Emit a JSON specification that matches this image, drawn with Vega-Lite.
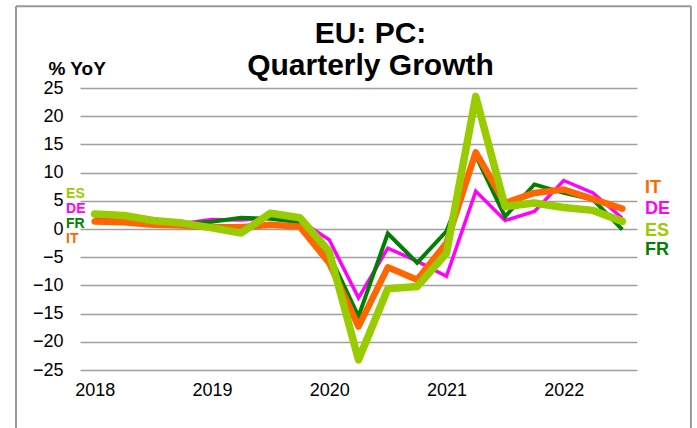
{
  "$schema": "https://vega.github.io/schema/vega-lite/v6.json",
  "width": 557,
  "height": 282,
  "autosize": "none",
  "padding": {"left": 80, "top": 88, "right": 60, "bottom": 58},
  "background": "white",
  "config": {"font": "Liberation Sans", "view": {"stroke": null}},
  "title": {"text": ["EU: PC:", "Quarterly Growth"], "fontSize": 30, "fontWeight": "bold", "color": "black", "lineHeight": 32, "anchor": "middle", "dx": 12, "dy": 116, "offset": 16, "baseline": "alphabetic"},
  "datasets": {
    "series": [
      {"quarter": "2018Q1", "t": 2018.0, "country": "ES", "value": 2.65},
      {"quarter": "2018Q2", "t": 2018.25, "country": "ES", "value": 2.4},
      {"quarter": "2018Q3", "t": 2018.5, "country": "ES", "value": 1.5},
      {"quarter": "2018Q4", "t": 2018.75, "country": "ES", "value": 1.05},
      {"quarter": "2019Q1", "t": 2019.0, "country": "ES", "value": 0.2},
      {"quarter": "2019Q2", "t": 2019.25, "country": "ES", "value": -0.7},
      {"quarter": "2019Q3", "t": 2019.5, "country": "ES", "value": 2.8},
      {"quarter": "2019Q4", "t": 2019.75, "country": "ES", "value": 2.0},
      {"quarter": "2020Q1", "t": 2020.0, "country": "ES", "value": -4.0},
      {"quarter": "2020Q2", "t": 2020.25, "country": "ES", "value": -23.2},
      {"quarter": "2020Q3", "t": 2020.5, "country": "ES", "value": -10.6},
      {"quarter": "2020Q4", "t": 2020.75, "country": "ES", "value": -10.2},
      {"quarter": "2021Q1", "t": 2021.0, "country": "ES", "value": -4.3},
      {"quarter": "2021Q2", "t": 2021.25, "country": "ES", "value": 23.5},
      {"quarter": "2021Q3", "t": 2021.5, "country": "ES", "value": 4.0},
      {"quarter": "2021Q4", "t": 2021.75, "country": "ES", "value": 4.6},
      {"quarter": "2022Q1", "t": 2022.0, "country": "ES", "value": 3.8},
      {"quarter": "2022Q2", "t": 2022.25, "country": "ES", "value": 3.3},
      {"quarter": "2022Q3", "t": 2022.5, "country": "ES", "value": 1.35},
      {"quarter": "2018Q1", "t": 2018.0, "country": "IT", "value": 1.35},
      {"quarter": "2018Q2", "t": 2018.25, "country": "IT", "value": 1.2},
      {"quarter": "2018Q3", "t": 2018.5, "country": "IT", "value": 0.75},
      {"quarter": "2018Q4", "t": 2018.75, "country": "IT", "value": 0.6},
      {"quarter": "2019Q1", "t": 2019.0, "country": "IT", "value": 0.3},
      {"quarter": "2019Q2", "t": 2019.25, "country": "IT", "value": 0.3},
      {"quarter": "2019Q3", "t": 2019.5, "country": "IT", "value": 0.75},
      {"quarter": "2019Q4", "t": 2019.75, "country": "IT", "value": 0.4},
      {"quarter": "2020Q1", "t": 2020.0, "country": "IT", "value": -6.0},
      {"quarter": "2020Q2", "t": 2020.25, "country": "IT", "value": -17.3},
      {"quarter": "2020Q3", "t": 2020.5, "country": "IT", "value": -6.8},
      {"quarter": "2020Q4", "t": 2020.75, "country": "IT", "value": -9.0},
      {"quarter": "2021Q1", "t": 2021.0, "country": "IT", "value": -2.5},
      {"quarter": "2021Q2", "t": 2021.25, "country": "IT", "value": 13.6},
      {"quarter": "2021Q3", "t": 2021.5, "country": "IT", "value": 4.6},
      {"quarter": "2021Q4", "t": 2021.75, "country": "IT", "value": 6.4},
      {"quarter": "2022Q1", "t": 2022.0, "country": "IT", "value": 7.0},
      {"quarter": "2022Q2", "t": 2022.25, "country": "IT", "value": 5.3},
      {"quarter": "2022Q3", "t": 2022.5, "country": "IT", "value": 3.6},
      {"quarter": "2018Q1", "t": 2018.0, "country": "DE", "value": 1.8},
      {"quarter": "2018Q2", "t": 2018.25, "country": "DE", "value": 1.5},
      {"quarter": "2018Q3", "t": 2018.5, "country": "DE", "value": 1.0},
      {"quarter": "2018Q4", "t": 2018.75, "country": "DE", "value": 1.0},
      {"quarter": "2019Q1", "t": 2019.0, "country": "DE", "value": 1.7},
      {"quarter": "2019Q2", "t": 2019.25, "country": "DE", "value": 1.6},
      {"quarter": "2019Q3", "t": 2019.5, "country": "DE", "value": 2.0},
      {"quarter": "2019Q4", "t": 2019.75, "country": "DE", "value": 1.5},
      {"quarter": "2020Q1", "t": 2020.0, "country": "DE", "value": -1.9},
      {"quarter": "2020Q2", "t": 2020.25, "country": "DE", "value": -12.2},
      {"quarter": "2020Q3", "t": 2020.5, "country": "DE", "value": -3.4},
      {"quarter": "2020Q4", "t": 2020.75, "country": "DE", "value": -5.7},
      {"quarter": "2021Q1", "t": 2021.0, "country": "DE", "value": -8.4},
      {"quarter": "2021Q2", "t": 2021.25, "country": "DE", "value": 6.7},
      {"quarter": "2021Q3", "t": 2021.5, "country": "DE", "value": 1.5},
      {"quarter": "2021Q4", "t": 2021.75, "country": "DE", "value": 3.1},
      {"quarter": "2022Q1", "t": 2022.0, "country": "DE", "value": 8.6},
      {"quarter": "2022Q2", "t": 2022.25, "country": "DE", "value": 6.4},
      {"quarter": "2022Q3", "t": 2022.5, "country": "DE", "value": 1.9},
      {"quarter": "2018Q1", "t": 2018.0, "country": "FR", "value": 1.5},
      {"quarter": "2018Q2", "t": 2018.25, "country": "FR", "value": 1.2},
      {"quarter": "2018Q3", "t": 2018.5, "country": "FR", "value": 1.0},
      {"quarter": "2018Q4", "t": 2018.75, "country": "FR", "value": 0.9},
      {"quarter": "2019Q1", "t": 2019.0, "country": "FR", "value": 1.3},
      {"quarter": "2019Q2", "t": 2019.25, "country": "FR", "value": 2.0},
      {"quarter": "2019Q3", "t": 2019.5, "country": "FR", "value": 1.8},
      {"quarter": "2019Q4", "t": 2019.75, "country": "FR", "value": 1.2},
      {"quarter": "2020Q1", "t": 2020.0, "country": "FR", "value": -4.5},
      {"quarter": "2020Q2", "t": 2020.25, "country": "FR", "value": -15.5},
      {"quarter": "2020Q3", "t": 2020.5, "country": "FR", "value": -0.8},
      {"quarter": "2020Q4", "t": 2020.75, "country": "FR", "value": -6.0},
      {"quarter": "2021Q1", "t": 2021.0, "country": "FR", "value": -0.4},
      {"quarter": "2021Q2", "t": 2021.25, "country": "FR", "value": 13.0},
      {"quarter": "2021Q3", "t": 2021.5, "country": "FR", "value": 2.2},
      {"quarter": "2021Q4", "t": 2021.75, "country": "FR", "value": 7.9},
      {"quarter": "2022Q1", "t": 2022.0, "country": "FR", "value": 6.4},
      {"quarter": "2022Q2", "t": 2022.25, "country": "FR", "value": 5.2},
      {"quarter": "2022Q3", "t": 2022.5, "country": "FR", "value": -0.1}
    ],
    "labels": [
      {"country": "ES", "side": "left", "t": 2017.756, "value": 6.26},
      {"country": "DE", "side": "left", "t": 2017.756, "value": 3.6},
      {"country": "FR", "side": "left", "t": 2017.756, "value": 0.94},
      {"country": "IT", "side": "left", "t": 2017.756, "value": -1.72},
      {"country": "IT", "side": "right", "t": 2022.693, "value": 7.3},
      {"country": "DE", "side": "right", "t": 2022.693, "value": 3.6},
      {"country": "ES", "side": "right", "t": 2022.693, "value": -0.3},
      {"country": "FR", "side": "right", "t": 2022.693, "value": -3.7}
    ]
  },
  "data": {"name": "series"},
  "encoding": {
    "x": {
      "field": "t", "type": "quantitative",
      "scale": {"domain": [2017.875, 2022.625], "nice": false, "zero": false},
      "axis": {"values": [2018, 2019, 2020, 2021, 2022], "format": "d", "title": null, "grid": false, "ticks": false, "domain": false, "labelFontSize": 18, "labelColor": "black", "labelPadding": 11, "labelFlush": false}
    },
    "y": {
      "field": "value", "type": "quantitative",
      "scale": {"domain": [-25, 25], "nice": false, "zero": false},
      "axis": {"values": [-25, -20, -15, -10, -5, 0, 5, 10, 15, 20, 25], "title": "% YoY", "titleAngle": 0, "titleAlign": "left", "titleBaseline": "alphabetic", "titleX": -32, "titleY": -14, "titleFontSize": 19, "titleFontWeight": "bold", "titleColor": "black", "grid": true, "gridColor": "#a0a0a0", "gridWidth": 1.5, "ticks": false, "domain": false, "labelFontSize": 18, "labelColor": "black", "labelPadding": 17}
    },
    "color": {
      "field": "country", "type": "nominal",
      "scale": {"domain": ["IT", "DE", "ES", "FR"], "range": ["#FF6600", "#FF00FF", "#99CC00", "#008000"]},
      "legend": null
    }
  },
  "layer": [
    {
      "transform": [{"filter": "datum.country === 'ES' && datum.t === 2018"}],
      "mark": {"type": "rule", "color": "#999999", "strokeWidth": 2, "clip": false},
      "encoding": {
        "x": {"datum": 2017.329, "type": "quantitative"},
        "x2": {"datum": 2023.085},
        "y": {"datum": 39.5, "type": "quantitative"},
        "color": {"value": "#999999"}
      }
    },
    {
      "transform": [{"filter": "datum.country === 'ES' && datum.t === 2018"}],
      "mark": {"type": "rule", "color": "#999999", "strokeWidth": 2, "clip": false},
      "encoding": {
        "x": {"datum": 2017.329, "type": "quantitative"},
        "y": {"datum": 39.5, "type": "quantitative"},
        "y2": {"datum": -37.4},
        "color": {"value": "#999999"}
      }
    },
    {
      "transform": [{"filter": "datum.country === 'ES' && datum.t === 2018"}],
      "mark": {"type": "rule", "color": "#999999", "strokeWidth": 2, "clip": false},
      "encoding": {
        "x": {"datum": 2023.085, "type": "quantitative"},
        "y": {"datum": 39.5, "type": "quantitative"},
        "y2": {"datum": -37.4},
        "color": {"value": "#999999"}
      }
    },
    {"transform": [{"filter": "datum.country === 'DE'"}], "mark": {"type": "line", "strokeWidth": 3.5, "strokeJoin": "miter"}},
    {"transform": [{"filter": "datum.country === 'FR'"}], "mark": {"type": "line", "strokeWidth": 4, "strokeJoin": "miter"}},
    {"transform": [{"filter": "datum.country === 'IT'"}], "mark": {"type": "line", "strokeWidth": 6.5, "strokeJoin": "round", "strokeCap": "round"}},
    {"transform": [{"filter": "datum.country === 'ES'"}], "mark": {"type": "line", "strokeWidth": 7.5, "strokeJoin": "round", "strokeCap": "round"}},
    {
      "data": {"name": "labels"},
      "transform": [{"filter": "datum.side === 'left'"}],
      "mark": {"type": "text", "align": "left", "baseline": "middle", "fontWeight": "bold", "fontSize": 14, "clip": false},
      "encoding": {"text": {"field": "country"}}
    },
    {
      "data": {"name": "labels"},
      "transform": [{"filter": "datum.side === 'right'"}],
      "mark": {"type": "text", "align": "left", "baseline": "middle", "fontWeight": "bold", "fontSize": 18, "clip": false},
      "encoding": {"text": {"field": "country"}}
    }
  ]
}
